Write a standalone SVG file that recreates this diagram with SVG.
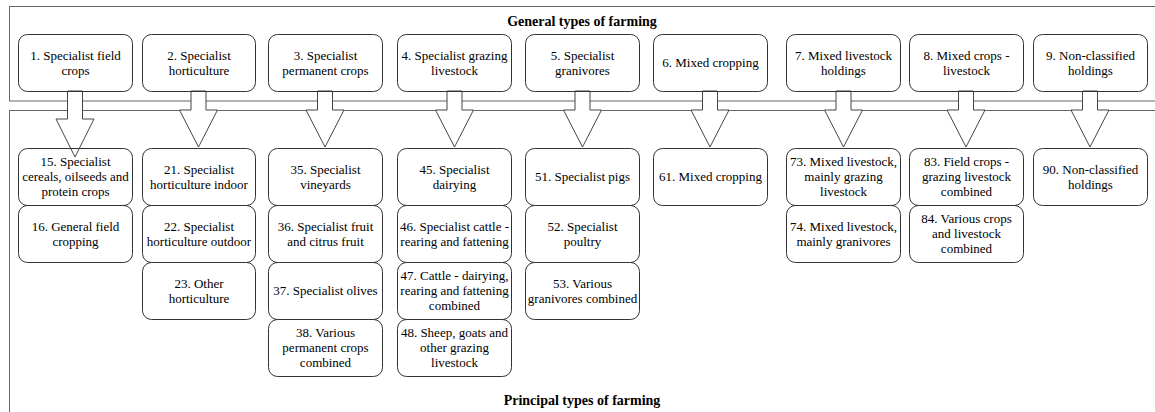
<svg xmlns="http://www.w3.org/2000/svg" width="1155" height="412" viewBox="0 0 1155 412">
<style>
.bg{fill:#fff}
.cont{fill:none;stroke:#666;stroke-width:1}
.node rect{fill:none;stroke:#333;stroke-width:1}
.node text{font-family:"Liberation Serif","Times New Roman",serif;font-size:13px;fill:#000;text-anchor:middle}
.arr{fill:#fff;stroke:#444;stroke-width:1;stroke-linejoin:miter}
.title{font-family:"Liberation Serif","Times New Roman",serif;font-size:14px;font-weight:bold;fill:#000;text-anchor:middle}
</style>
<rect class="bg" x="0" y="0" width="1155" height="412"/>
<g id="containers">
<rect class="cont" x="9.5" y="6.5" width="1200" height="94.5"/>
<rect class="cont" x="9.5" y="110.5" width="1200" height="400"/>
<text class="title" x="582" y="26">General types of farming</text>
<text class="title" x="582" y="405">Principal types of farming</text>
</g>
<g id="connectors">
<polygon class="arr" points="67.5,91 82.5,91 82.5,119 94,119 75,157 56,119 67.5,119"/>
<polygon class="arr" points="191,91 206,91 206,110 217.5,110 198.5,147 179.5,110 191,110"/>
<polygon class="arr" points="317.5,91 332.5,91 332.5,110 344,110 325,147 306,110 317.5,110"/>
<polygon class="arr" points="447,91 462,91 462,110 473.5,110 454.5,147 435.5,110 447,110"/>
<polygon class="arr" points="575,91 590,91 590,110 601.5,110 582.5,147 563.5,110 575,110"/>
<polygon class="arr" points="702.5,91 717.5,91 717.5,110 729,110 710,147 691,110 702.5,110"/>
<polygon class="arr" points="836,91 851,91 851,110 862.5,110 843.5,147 824.5,110 836,110"/>
<polygon class="arr" points="958.5,91 973.5,91 973.5,110 985,110 966,147 947,110 958.5,110"/>
<polygon class="arr" points="1082.5,91 1097.5,91 1097.5,110 1109,110 1090,147 1071,110 1082.5,110"/>
</g>
<g id="n1" class="node"><rect x="18.5" y="34.5" width="114" height="57" rx="9"/><text x="75.5" y="59.5">1. Specialist field<tspan x="75.5" dy="15">crops</tspan></text></g>
<g id="n2" class="node"><rect x="142.5" y="34.5" width="113" height="57" rx="9"/><text x="199" y="59.5">2. Specialist<tspan x="199" dy="15">horticulture</tspan></text></g>
<g id="n3" class="node"><rect x="268.5" y="34.5" width="114" height="57" rx="9"/><text x="325.5" y="59.5">3. Specialist<tspan x="325.5" dy="15">permanent crops</tspan></text></g>
<g id="n4" class="node"><rect x="397.5" y="34.5" width="114" height="57" rx="9"/><text x="454.5" y="59.5">4. Specialist grazing<tspan x="454.5" dy="15">livestock</tspan></text></g>
<g id="n5" class="node"><rect x="525.5" y="34.5" width="114" height="57" rx="9"/><text x="582.5" y="59.5">5. Specialist<tspan x="582.5" dy="15">granivores</tspan></text></g>
<g id="n6" class="node"><rect x="653.5" y="34.5" width="114" height="57" rx="9"/><text x="710.5" y="67">6. Mixed cropping</text></g>
<g id="n7" class="node"><rect x="786.5" y="34.5" width="114" height="57" rx="9"/><text x="843.5" y="59.5">7. Mixed livestock<tspan x="843.5" dy="15">holdings</tspan></text></g>
<g id="n8" class="node"><rect x="909.5" y="34.5" width="114" height="57" rx="9"/><text x="966.5" y="59.5">8. Mixed crops -<tspan x="966.5" dy="15">livestock</tspan></text></g>
<g id="n9" class="node"><rect x="1033.5" y="34.5" width="114" height="57" rx="9"/><text x="1090.5" y="59.5">9. Non-classified<tspan x="1090.5" dy="15">holdings</tspan></text></g>

<g id="n15" class="node"><rect x="18.5" y="148.5" width="114" height="57" rx="9"/><text x="75.5" y="166">15. Specialist<tspan x="75.5" dy="15">cereals, oilseeds and</tspan><tspan x="75.5" dy="15">protein crops</tspan></text></g>
<g id="n16" class="node"><rect x="18.5" y="205.5" width="114" height="57" rx="9"/><text x="75.5" y="230.5">16. General field<tspan x="75.5" dy="15">cropping</tspan></text></g>

<g id="n21" class="node"><rect x="142.5" y="148.5" width="113" height="57" rx="9"/><text x="199" y="173.5">21. Specialist<tspan x="199" dy="15">horticulture indoor</tspan></text></g>
<g id="n22" class="node"><rect x="142.5" y="205.5" width="113" height="57" rx="9"/><text x="199" y="230.5">22. Specialist<tspan x="199" dy="15">horticulture outdoor</tspan></text></g>
<g id="n23" class="node"><rect x="142.5" y="262.5" width="113" height="57" rx="9"/><text x="199" y="287.5">23. Other<tspan x="199" dy="15">horticulture</tspan></text></g>

<g id="n35" class="node"><rect x="268.5" y="148.5" width="114" height="57" rx="9"/><text x="325.5" y="173.5">35. Specialist<tspan x="325.5" dy="15">vineyards</tspan></text></g>
<g id="n36" class="node"><rect x="268.5" y="205.5" width="114" height="57" rx="9"/><text x="325.5" y="230.5">36. Specialist fruit<tspan x="325.5" dy="15">and citrus fruit</tspan></text></g>
<g id="n37" class="node"><rect x="268.5" y="262.5" width="114" height="57" rx="9"/><text x="325.5" y="295">37. Specialist olives</text></g>
<g id="n38" class="node"><rect x="268.5" y="319.5" width="114" height="57" rx="9"/><text x="325.5" y="337">38. Various<tspan x="325.5" dy="15">permanent crops</tspan><tspan x="325.5" dy="15">combined</tspan></text></g>

<g id="n45" class="node"><rect x="397.5" y="148.5" width="114" height="57" rx="9"/><text x="454.5" y="173.5">45. Specialist<tspan x="454.5" dy="15">dairying</tspan></text></g>
<g id="n46" class="node"><rect x="397.5" y="205.5" width="114" height="57" rx="9"/><text x="454.5" y="230.5">46. Specialist cattle -<tspan x="454.5" dy="15">rearing and fattening</tspan></text></g>
<g id="n47" class="node"><rect x="397.5" y="262.5" width="114" height="57" rx="9"/><text x="454.5" y="280">47. Cattle - dairying,<tspan x="454.5" dy="15">rearing and fattening</tspan><tspan x="454.5" dy="15">combined</tspan></text></g>
<g id="n48" class="node"><rect x="397.5" y="319.5" width="114" height="57" rx="9"/><text x="454.5" y="337">48. Sheep, goats and<tspan x="454.5" dy="15">other grazing</tspan><tspan x="454.5" dy="15">livestock</tspan></text></g>

<g id="n51" class="node"><rect x="525.5" y="148.5" width="114" height="57" rx="9"/><text x="582.5" y="181">51. Specialist pigs</text></g>
<g id="n52" class="node"><rect x="525.5" y="205.5" width="114" height="57" rx="9"/><text x="582.5" y="230.5">52. Specialist<tspan x="582.5" dy="15">poultry</tspan></text></g>
<g id="n53" class="node"><rect x="525.5" y="262.5" width="114" height="57" rx="9"/><text x="582.5" y="287.5">53. Various<tspan x="582.5" dy="15">granivores combined</tspan></text></g>

<g id="n61" class="node"><rect x="653.5" y="148.5" width="114" height="57" rx="9"/><text x="710.5" y="181">61. Mixed cropping</text></g>

<g id="n73" class="node"><rect x="786.5" y="148.5" width="114" height="57" rx="9"/><text x="843.5" y="166">73. Mixed livestock,<tspan x="843.5" dy="15">mainly grazing</tspan><tspan x="843.5" dy="15">livestock</tspan></text></g>
<g id="n74" class="node"><rect x="786.5" y="205.5" width="114" height="57" rx="9"/><text x="843.5" y="230.5">74. Mixed livestock,<tspan x="843.5" dy="15">mainly granivores</tspan></text></g>

<g id="n83" class="node"><rect x="909.5" y="148.5" width="114" height="57" rx="9"/><text x="966.5" y="166">83. Field crops -<tspan x="966.5" dy="15">grazing livestock</tspan><tspan x="966.5" dy="15">combined</tspan></text></g>
<g id="n84" class="node"><rect x="909.5" y="205.5" width="114" height="57" rx="9"/><text x="966.5" y="223">84. Various crops<tspan x="966.5" dy="15">and livestock</tspan><tspan x="966.5" dy="15">combined</tspan></text></g>

<g id="n90" class="node"><rect x="1033.5" y="148.5" width="114" height="57" rx="9"/><text x="1090.5" y="173.5">90. Non-classified<tspan x="1090.5" dy="15">holdings</tspan></text></g>
</svg>
